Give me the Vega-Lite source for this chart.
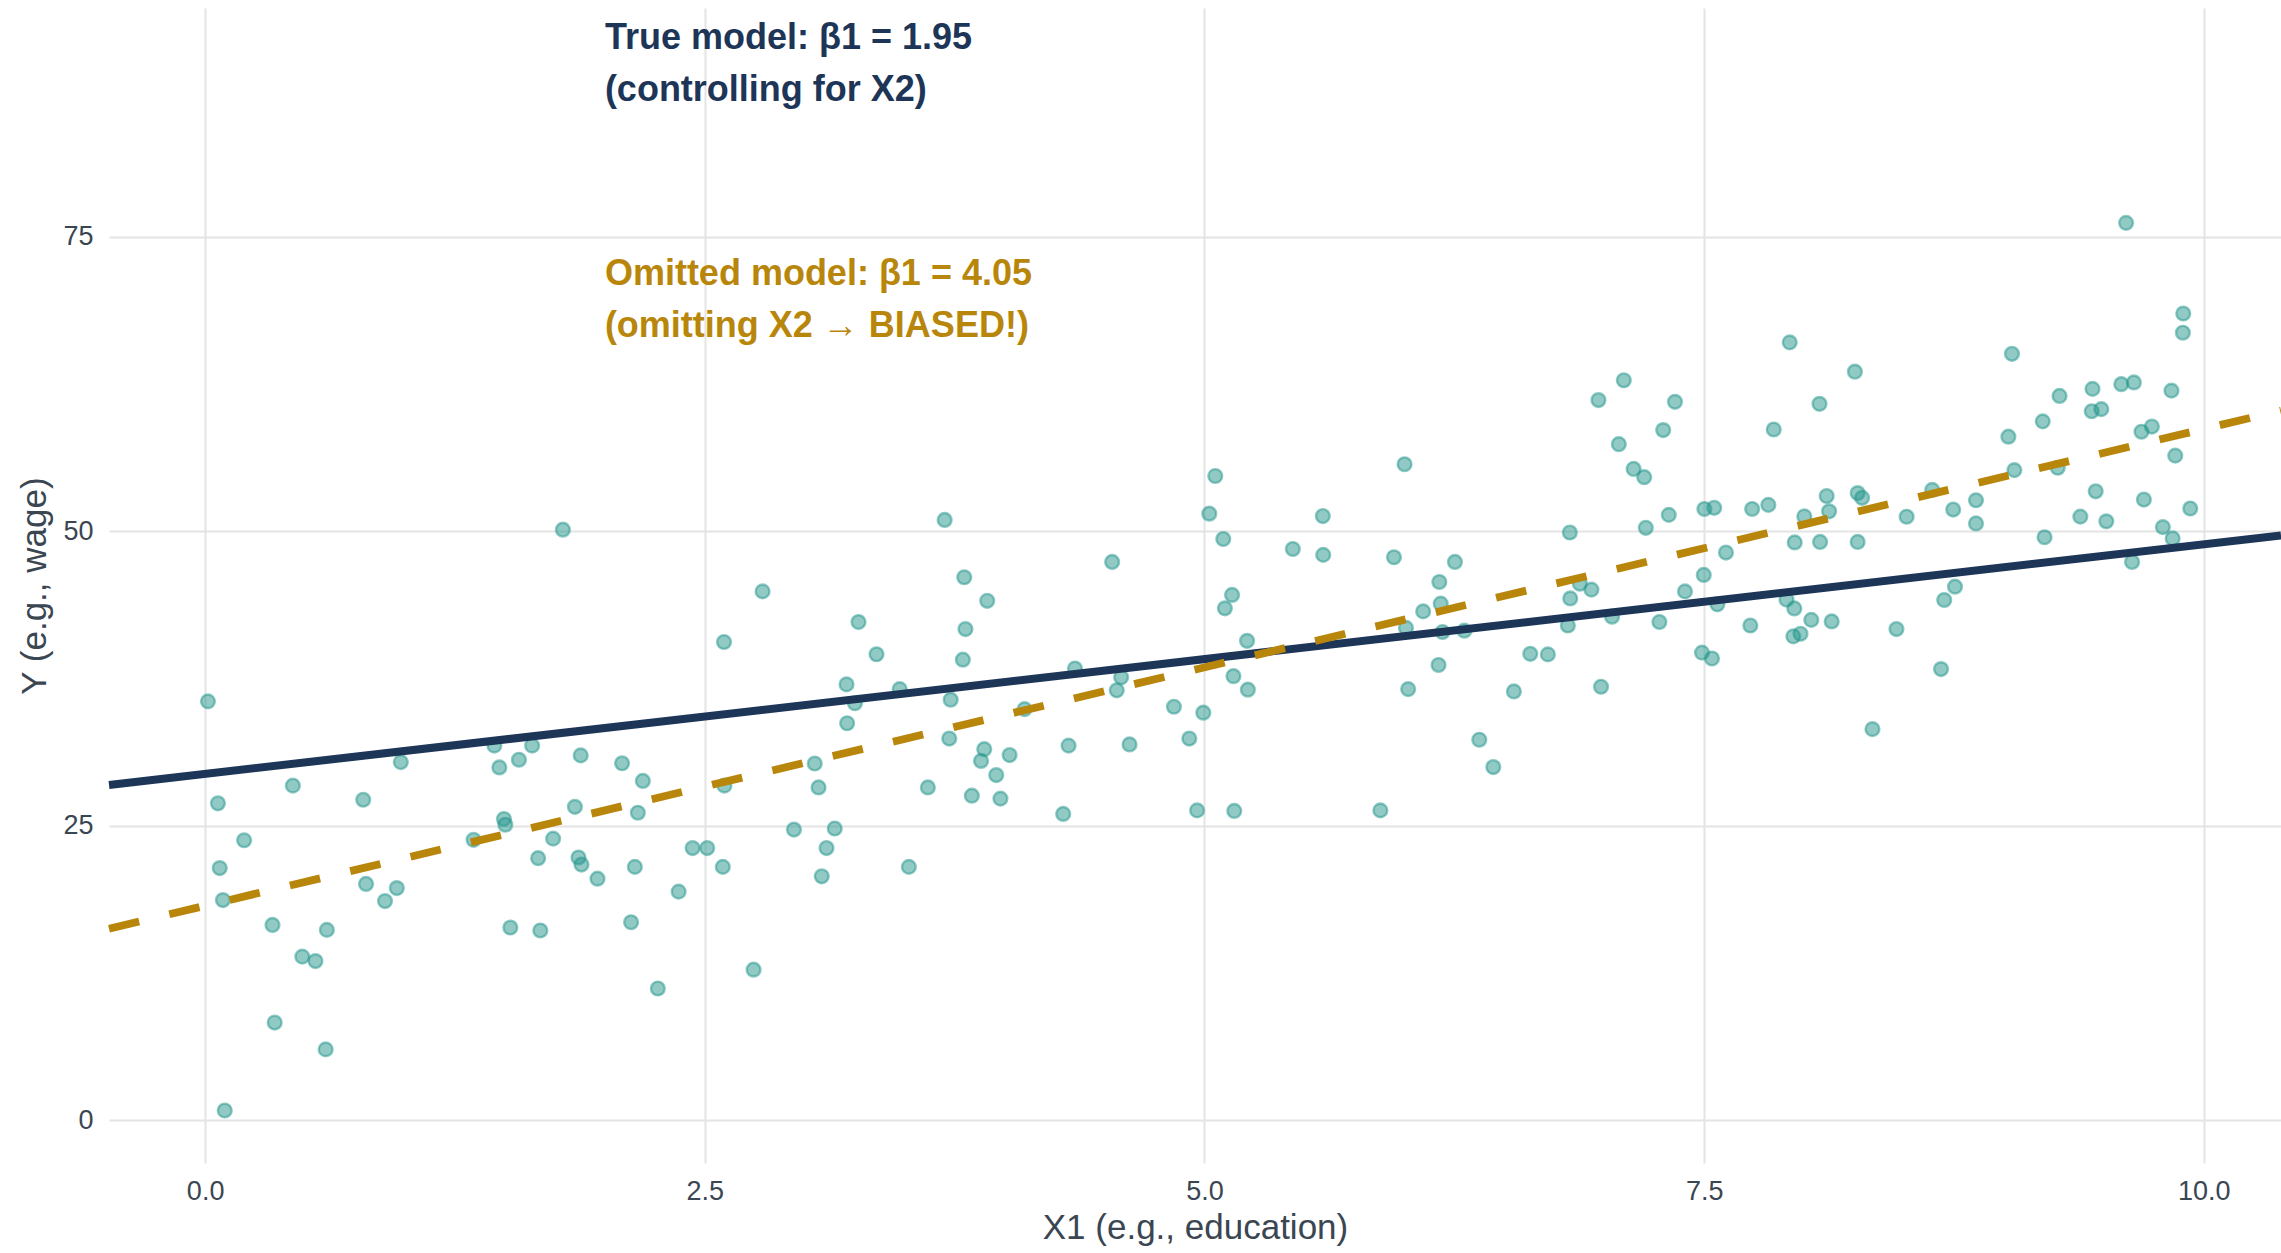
{
  "$schema": "https://vega.github.io/schema/vega-lite/v6.json",
  "width": 2172,
  "height": 1155,
  "autosize": {"type": "none"},
  "padding": {"left": 109, "top": 8, "right": 0, "bottom": 90},
  "background": "white",
  "config": {
    "view": {"stroke": null},
    "font": "Liberation Sans",
    "axis": {
      "domain": false,
      "ticks": false,
      "gridColor": "#e4e4e4",
      "gridWidth": 2,
      "labelFont": "Liberation Sans",
      "labelFontSize": 27,
      "labelColor": "#3a4652",
      "titleFont": "Liberation Sans",
      "titleFontSize": 35,
      "titleFontWeight": "normal",
      "titleColor": "#3a4652"
    }
  },
  "datasets": {
    "points": [
      {"x1": 0.014, "y": 35.56}, {"x1": 0.064, "y": 26.9}, {"x1": 0.195, "y": 23.76}, {"x1": 0.073, "y": 21.4},
      {"x1": 0.089, "y": 18.68}, {"x1": 0.439, "y": 28.4}, {"x1": 0.337, "y": 16.57}, {"x1": 0.609, "y": 16.15},
      {"x1": 0.486, "y": 13.88}, {"x1": 0.552, "y": 13.5}, {"x1": 0.348, "y": 8.28}, {"x1": 0.603, "y": 6.0},
      {"x1": 0.098, "y": 0.81}, {"x1": 0.791, "y": 27.2}, {"x1": 0.805, "y": 20.05}, {"x1": 0.9, "y": 18.6},
      {"x1": 0.959, "y": 19.7}, {"x1": 0.979, "y": 30.4}, {"x1": 1.447, "y": 31.8}, {"x1": 1.472, "y": 29.95},
      {"x1": 1.57, "y": 30.6}, {"x1": 1.636, "y": 31.8}, {"x1": 1.879, "y": 30.97}, {"x1": 2.086, "y": 30.3},
      {"x1": 2.19, "y": 28.8}, {"x1": 1.343, "y": 23.8}, {"x1": 1.495, "y": 25.57}, {"x1": 1.502, "y": 25.08},
      {"x1": 1.741, "y": 23.9}, {"x1": 1.85, "y": 26.6}, {"x1": 1.666, "y": 22.24}, {"x1": 1.868, "y": 22.3},
      {"x1": 1.883, "y": 21.7}, {"x1": 1.963, "y": 20.5}, {"x1": 2.15, "y": 21.5}, {"x1": 2.165, "y": 26.1},
      {"x1": 1.527, "y": 16.35}, {"x1": 1.677, "y": 16.1}, {"x1": 2.131, "y": 16.8}, {"x1": 1.79, "y": 50.14},
      {"x1": 2.789, "y": 44.9}, {"x1": 2.596, "y": 40.6}, {"x1": 2.598, "y": 28.4}, {"x1": 2.439, "y": 23.1},
      {"x1": 2.512, "y": 23.1}, {"x1": 2.59, "y": 21.5}, {"x1": 2.369, "y": 19.4}, {"x1": 2.265, "y": 11.17},
      {"x1": 2.744, "y": 12.77}, {"x1": 2.946, "y": 24.67}, {"x1": 3.15, "y": 24.76}, {"x1": 3.109, "y": 23.1},
      {"x1": 3.085, "y": 20.7}, {"x1": 3.05, "y": 30.28}, {"x1": 3.069, "y": 28.25}, {"x1": 3.209, "y": 37.0},
      {"x1": 3.212, "y": 33.7}, {"x1": 3.251, "y": 35.4}, {"x1": 3.269, "y": 42.3}, {"x1": 3.359, "y": 39.56},
      {"x1": 3.475, "y": 36.6}, {"x1": 3.521, "y": 21.5}, {"x1": 3.7, "y": 50.97}, {"x1": 3.798, "y": 46.1},
      {"x1": 3.913, "y": 44.1}, {"x1": 3.804, "y": 41.7}, {"x1": 3.791, "y": 39.1}, {"x1": 3.73, "y": 35.7},
      {"x1": 3.723, "y": 32.4}, {"x1": 3.616, "y": 28.25}, {"x1": 3.898, "y": 31.5}, {"x1": 3.882, "y": 30.5},
      {"x1": 4.025, "y": 31.0}, {"x1": 3.958, "y": 29.3}, {"x1": 3.836, "y": 27.55}, {"x1": 3.979, "y": 27.3},
      {"x1": 4.1, "y": 34.9}, {"x1": 4.293, "y": 26.0}, {"x1": 4.32, "y": 31.8}, {"x1": 4.352, "y": 38.35},
      {"x1": 4.538, "y": 47.4}, {"x1": 4.583, "y": 37.6}, {"x1": 4.561, "y": 36.5}, {"x1": 4.625, "y": 31.9},
      {"x1": 4.847, "y": 35.1}, {"x1": 4.924, "y": 32.4},
      {"x1": 4.994, "y": 34.6}, {"x1": 4.963, "y": 26.3}, {"x1": 5.054, "y": 54.7}, {"x1": 5.024, "y": 51.5},
      {"x1": 5.094, "y": 49.35}, {"x1": 5.138, "y": 44.6}, {"x1": 5.102, "y": 43.46}, {"x1": 5.213, "y": 40.7},
      {"x1": 5.145, "y": 37.7}, {"x1": 5.217, "y": 36.55}, {"x1": 5.149, "y": 26.25}, {"x1": 5.442, "y": 48.5},
      {"x1": 5.592, "y": 51.3}, {"x1": 5.594, "y": 48.0}, {"x1": 5.88, "y": 26.3}, {"x1": 6.001, "y": 55.7},
      {"x1": 5.948, "y": 47.8}, {"x1": 6.008, "y": 41.8}, {"x1": 6.019, "y": 36.6}, {"x1": 6.094, "y": 43.2},
      {"x1": 6.175, "y": 45.7}, {"x1": 6.182, "y": 43.86}, {"x1": 6.191, "y": 41.45}, {"x1": 6.171, "y": 38.65},
      {"x1": 6.253, "y": 47.4}, {"x1": 6.3, "y": 41.56}, {"x1": 6.375, "y": 32.3}, {"x1": 6.445, "y": 29.98},
      {"x1": 6.548, "y": 36.4}, {"x1": 6.63, "y": 39.6}, {"x1": 6.718, "y": 39.55}, {"x1": 6.828, "y": 49.9},
      {"x1": 6.83, "y": 44.3}, {"x1": 6.878, "y": 45.55}, {"x1": 6.936, "y": 45.05}, {"x1": 6.818, "y": 42.0},
      {"x1": 7.039, "y": 42.75}, {"x1": 6.984, "y": 36.8}, {"x1": 6.971, "y": 61.15}, {"x1": 7.354, "y": 61.0},
      {"x1": 7.295, "y": 58.6}, {"x1": 7.073, "y": 57.4}, {"x1": 7.147, "y": 55.3}, {"x1": 7.2, "y": 54.6},
      {"x1": 7.323, "y": 51.4}, {"x1": 7.208, "y": 50.3}, {"x1": 7.276, "y": 42.3}, {"x1": 7.404, "y": 44.9},
      {"x1": 7.498, "y": 46.3}, {"x1": 7.566, "y": 43.8}, {"x1": 7.501, "y": 51.9}, {"x1": 7.55, "y": 52.0},
      {"x1": 7.609, "y": 48.2}, {"x1": 7.489, "y": 39.7}, {"x1": 7.539, "y": 39.2}, {"x1": 7.098, "y": 62.83},
      {"x1": 7.74, "y": 51.9}, {"x1": 7.821, "y": 52.25}, {"x1": 7.928, "y": 66.05}, {"x1": 7.848, "y": 58.65},
      {"x1": 8.077, "y": 60.83}, {"x1": 8.254, "y": 63.56}, {"x1": 8.113, "y": 53.0}, {"x1": 8.125, "y": 51.7},
      {"x1": 8.001, "y": 51.27}, {"x1": 7.953, "y": 49.06}, {"x1": 8.08, "y": 49.1}, {"x1": 8.268, "y": 53.25},
      {"x1": 8.29, "y": 52.85}, {"x1": 8.268, "y": 49.1}, {"x1": 8.513, "y": 51.24}, {"x1": 8.641, "y": 53.52},
      {"x1": 8.746, "y": 51.85}, {"x1": 8.86, "y": 52.64}, {"x1": 8.86, "y": 50.67}, {"x1": 7.912, "y": 44.2},
      {"x1": 7.951, "y": 43.45}, {"x1": 7.731, "y": 42.0}, {"x1": 7.946, "y": 41.08}, {"x1": 7.982, "y": 41.3},
      {"x1": 8.036, "y": 42.48}, {"x1": 8.138, "y": 42.35}, {"x1": 8.462, "y": 41.7}, {"x1": 8.701, "y": 44.17},
      {"x1": 8.755, "y": 45.3}, {"x1": 8.685, "y": 38.3}, {"x1": 8.342, "y": 33.2}, {"x1": 9.04, "y": 65.08},
      {"x1": 9.022, "y": 58.04}, {"x1": 9.052, "y": 55.2}, {"x1": 9.194, "y": 59.34}, {"x1": 9.278, "y": 61.5},
      {"x1": 9.269, "y": 55.4}, {"x1": 9.203, "y": 49.5}, {"x1": 9.443, "y": 62.1}, {"x1": 9.439, "y": 60.2},
      {"x1": 9.487, "y": 60.38}, {"x1": 9.587, "y": 62.5}, {"x1": 9.65, "y": 62.65}, {"x1": 9.611, "y": 76.2},
      {"x1": 9.459, "y": 53.4}, {"x1": 9.382, "y": 51.25}, {"x1": 9.512, "y": 50.85}, {"x1": 9.688, "y": 58.46},
      {"x1": 9.74, "y": 58.9}, {"x1": 9.7, "y": 52.7}, {"x1": 9.641, "y": 47.4}, {"x1": 9.795, "y": 50.36},
      {"x1": 9.844, "y": 49.4}, {"x1": 9.838, "y": 61.95}, {"x1": 9.857, "y": 56.43}, {"x1": 9.897, "y": 68.5},
      {"x1": 9.895, "y": 66.87}, {"x1": 9.932, "y": 51.94}
    ],
    "trueLine": [{"x1": -0.481, "y": 28.46}, {"x1": 10.386, "y": 49.65}],
    "omitLine": [{"x1": -0.481, "y": 16.25}, {"x1": 10.386, "y": 60.26}],
    "trueLabel": [{"x1": 2.0, "y": 90, "label": "True model: β1 = 1.95\n(controlling for X2)"}],
    "omitLabel": [{"x1": 2.0, "y": 70, "label": "Omitted model: β1 = 4.05\n(omitting X2 → BIASED!)"}]
  },
  "encoding": {
    "x": {
      "field": "x1", "type": "quantitative",
      "scale": {"domain": [-0.481, 10.386], "nice": false, "zero": false},
      "axis": {"title": "X1 (e.g., education)", "values": [0, 2.5, 5, 7.5, 10], "format": ".1f", "labelPadding": 15, "titlePadding": 6}
    },
    "y": {
      "field": "y", "type": "quantitative",
      "scale": {"domain": [-3.65, 94.45], "nice": false, "zero": false},
      "axis": {"title": "Y (e.g., wage)", "values": [0, 25, 50, 75], "labelPadding": 16, "titlePadding": 10}
    }
  },
  "layer": [
    {
      "data": {"name": "points"},
      "mark": {"type": "point", "shape": "circle", "filled": true, "size": 190, "fill": "#24958C", "fillOpacity": 0.5, "stroke": "#24958C", "strokeOpacity": 0.5, "strokeWidth": 2.4}
    },
    {
      "data": {"name": "trueLine"},
      "mark": {"type": "line", "color": "#1D3557", "strokeWidth": 8, "strokeCap": "butt"}
    },
    {
      "data": {"name": "omitLine"},
      "mark": {"type": "line", "color": "#B8860B", "strokeWidth": 7.8, "strokeDash": [31, 31], "strokeCap": "butt"}
    },
    {
      "data": {"name": "trueLabel"},
      "mark": {"type": "text", "align": "left", "baseline": "middle", "dy": -22, "lineBreak": "\n", "lineHeight": 52, "font": "Liberation Sans", "fontWeight": "bold", "fontSize": 36, "color": "#1D3557"},
      "encoding": {"text": {"field": "label"}}
    },
    {
      "data": {"name": "omitLabel"},
      "mark": {"type": "text", "align": "left", "baseline": "middle", "dy": -22, "lineBreak": "\n", "lineHeight": 52, "font": "Liberation Sans", "fontWeight": "bold", "fontSize": 36, "color": "#B8860B"},
      "encoding": {"text": {"field": "label"}}
    }
  ]
}
